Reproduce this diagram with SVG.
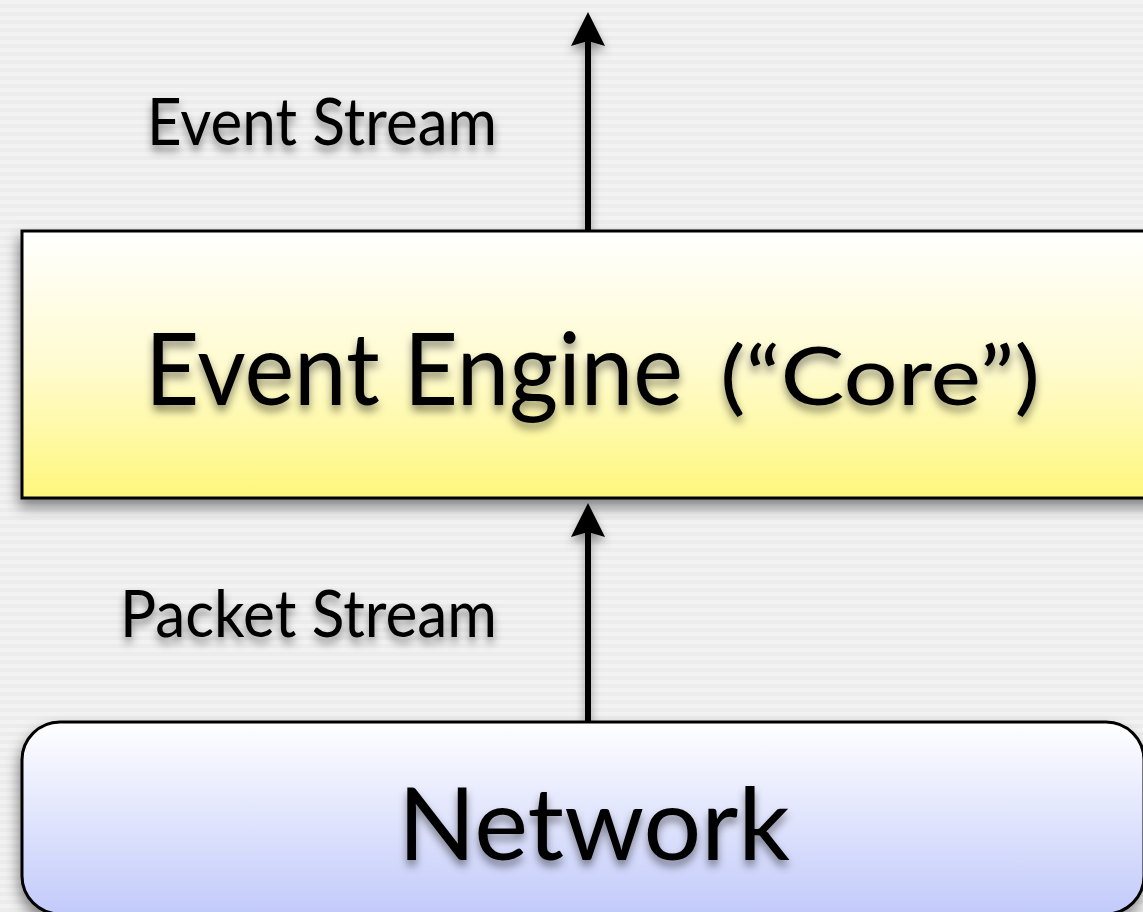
<svg xmlns="http://www.w3.org/2000/svg" width="1143" height="912" viewBox="0 0 1143 912">
  <defs>
    <pattern id="stripes" width="8" height="8" patternUnits="userSpaceOnUse">
      <rect width="8" height="8" fill="#f2f2f2"/>
      <rect y="4" width="8" height="4" fill="#ececec"/>
    </pattern>
    <linearGradient id="gradCore" x1="0" y1="0" x2="0" y2="1">
      <stop offset="0" stop-color="#ffffff"/>
      <stop offset="0.5" stop-color="#fffbd0"/>
      <stop offset="1" stop-color="#fef77c"/>
    </linearGradient>
    <linearGradient id="gradNet" x1="0" y1="0" x2="0" y2="1">
      <stop offset="0" stop-color="#ffffff"/>
      <stop offset="1" stop-color="#c2cafa"/>
    </linearGradient>
    <filter id="boxShadow" x="-10%" y="-20%" width="120%" height="150%">
      <feDropShadow dx="-2" dy="8" stdDeviation="7" flood-color="#000" flood-opacity="0.45"/>
    </filter>
    <filter id="textShadow" x="-10%" y="-30%" width="120%" height="180%">
      <feDropShadow dx="0" dy="6" stdDeviation="4" flood-color="#000" flood-opacity="0.45"/>
    </filter>
    <filter id="arrowShadow" x="-200%" y="-10%" width="500%" height="130%">
      <feDropShadow dx="0" dy="6" stdDeviation="5" flood-color="#000" flood-opacity="0.4"/>
    </filter>
  </defs>
  <style>
    .label { font-family: Lato, "Liberation Sans", "DejaVu Sans", sans-serif; fill: #000; filter: url(#textShadow); }
    .small { font-size: 65px; }
    .big { font-size: 100px; }
    .mid { font-size: 82px; }
    .shaft { stroke: #000; stroke-width: 6; fill: none; }
    .head { fill: #000; }
  </style>

  <!-- striped backdrop -->
  <rect width="1143" height="912" fill="url(#stripes)"/>

  <!-- connectors -->
  <g id="connectors" filter="url(#arrowShadow)">
    <g id="event-stream-arrow">
      <line class="shaft" x1="588" y1="231" x2="588" y2="40"/>
      <path class="head" d="M588,12 L605,46 L588,41 L571,46 Z"/>
    </g>
    <g id="packet-stream-arrow">
      <line class="shaft" x1="588" y1="722" x2="588" y2="531"/>
      <path class="head" d="M588,503 L605,537 L588,532 L571,537 Z"/>
    </g>
  </g>

  <!-- connector labels -->
  <text class="label small" x="147" y="145" textLength="350" lengthAdjust="spacingAndGlyphs">Event Stream</text>
  <text class="label small" x="120" y="637" textLength="377" lengthAdjust="spacingAndGlyphs">Packet Stream</text>

  <!-- core engine box -->
  <g id="event-engine">
    <rect x="22" y="231" width="1140" height="267" fill="url(#gradCore)" stroke="#000" stroke-width="3" filter="url(#boxShadow)"/>
    <text class="label" y="405"><tspan class="big" x="145" textLength="538" lengthAdjust="spacingAndGlyphs">Event Engine</tspan><tspan class="mid" x="720" textLength="320" lengthAdjust="spacingAndGlyphs">(“Core”)</tspan></text>
  </g>

  <!-- network box -->
  <g id="network">
    <rect x="22" y="722" width="1122" height="192" rx="38" ry="38" fill="url(#gradNet)" stroke="#000" stroke-width="3" filter="url(#boxShadow)"/>
    <text class="label big" x="398" y="860" textLength="392" lengthAdjust="spacingAndGlyphs">Network</text>
  </g>
</svg>
